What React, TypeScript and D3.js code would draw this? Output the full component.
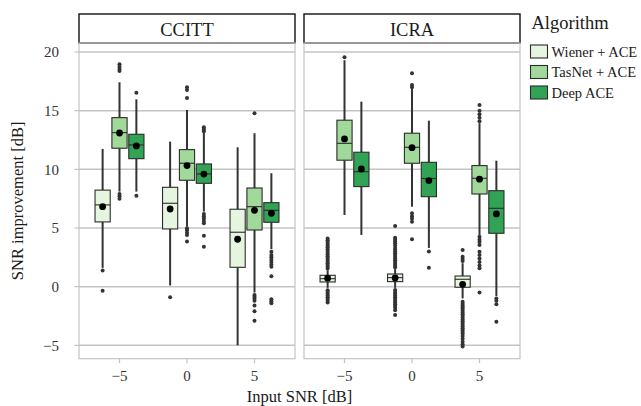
import React from "react";
import * as d3 from "d3";

// facets, x positions and fill groups
const panels = ["CCITT", "ICRA"];
const inputSnr = [-5, 0, 5];
const algorithms = ["Wiener + ACE", "TasNet + ACE", "Deep ACE"];
const algoColors = ["#e5f5e0", "#a1d99b", "#31a354"];
const yTicks = [-5, 0, 5, 10, 15, 20];
const xTicks = [-5, 0, 5];

// box stats per input SNR: [lowWhisker, q1, median, q3, highWhisker, mean]
const ccittWiener = [
  [1.6, 5.52, 6.97, 8.23, 11.74, 6.82],
  [0.1, 4.92, 7.11, 8.47, 12.36, 6.62],
  [-5.0, 1.65, 4.64, 6.6, 11.88, 4.04],
];
const ccittTasnet = [
  [8.1, 11.8, 13.13, 14.41, 17.42, 13.1],
  [5.12, 9.07, 10.52, 11.68, 15.06, 10.32],
  [-0.5, 4.83, 6.82, 8.41, 13.08, 6.51],
];
const ccittDeep = [
  [8.1, 10.91, 12.08, 12.99, 15.97, 12.0],
  [6.4, 8.81, 9.61, 10.46, 13.2, 9.6],
  [3.2, 5.49, 6.51, 7.16, 9.67, 6.26],
];
const icraWiener = [
  [-0.1, 0.4, 0.68, 0.97, 1.4, 0.72],
  [-0.1, 0.43, 0.77, 1.08, 1.5, 0.74],
  [-1.0, -0.05, 0.63, 0.91, 2.0, 0.2],
];
const icraTasnet = [
  [6.11, 10.78, 12.22, 14.19, 19.3, 12.59],
  [6.82, 10.52, 11.88, 13.08, 16.91, 11.85],
  [4.41, 7.9, 9.24, 10.32, 13.93, 9.16],
];
const icraDeep = [
  [4.41, 8.53, 9.8, 11.46, 15.77, 10.03],
  [3.3, 7.67, 9.22, 10.6, 14.15, 9.04],
  [-0.8, 4.55, 6.68, 8.18, 10.74, 6.2],
];

// outliers per input SNR
const ccittWienerOut = [[1.37, -0.34], [-0.9], []];
const ccittTasnetOut = [
  [18.96, 18.75, 18.55, 18.39, 7.9, 7.7, 7.5],
  [17.0, 16.77, 16.09, 4.98, 4.8, 4.6, 4.4, 3.84],
  [14.78, -0.7, -0.85, -1.0, -1.2, -1.6, -2.1, -2.9],
];
const ccittDeepOut = [
  [16.54, 7.76],
  [13.59, 13.4, 13.25, 6.2, 6.0, 5.8, 5.6, 5.4, 4.35, 3.4],
  [2.98, 2.7, 2.5, 2.3, 2.1, 1.9, 1.7, 0.88, -1.07, -1.25, -1.42],
];
const icraWienerOut = [
  [1.55, 1.7, 1.85, 2.0, 2.15, 2.3, 2.45, 2.6, 2.75, 2.9, 3.05, 3.2, 3.35, 3.5, 3.65, 3.8, 3.95, 4.1, -0.3, -0.45, -0.6, -0.75, -0.9, -1.05, -1.2, -1.35],
  [5.17, 4.18, 4.0, 3.85, 3.7, 3.5, 3.3, 3.15, 3.0, 2.85, 2.7, 2.55, 2.4, 2.25, 2.1, 1.95, 1.8, 1.65, -0.28, -0.45, -0.6, -0.75, -0.9, -1.05, -1.2, -1.35, -1.5, -1.65, -1.8, -2.0, -2.41],
  [3.13, 2.56, 2.35, 2.19, -1.28, -1.45, -1.6, -1.75, -1.9, -2.05, -2.2, -2.35, -2.5, -2.65, -2.8, -2.95, -3.1, -3.25, -3.4, -3.55, -3.7, -3.85, -4.0, -4.2, -4.45, -4.7, -4.9, -5.1],
];
const icraTasnetOut = [
  [19.56],
  [18.19, 17.2, 17.0, 6.26, 6.0, 5.8, 5.54, 4.04],
  [15.49, 15.0, 14.7, 14.4, 14.1, 4.26, 4.0, 3.8, 3.55, 2.98, 2.7, 2.4, 2.1, 1.8, 1.57, -0.5],
];
const icraDeepOut = [[], [3.0, 1.62], [-1.0, -1.2, -1.5, -2.98]];

const statsByPanel = [
  [ccittWiener, ccittTasnet, ccittDeep],
  [icraWiener, icraTasnet, icraDeep],
];
const outByPanel = [
  [ccittWienerOut, ccittTasnetOut, ccittDeepOut],
  [icraWienerOut, icraTasnetOut, icraDeepOut],
];

const W = 641;
const H = 406;
const panelX = [79, 304];
const panelW = 216;
const panelTop = 43;
const panelBottom = 358.7;
const stripTop = 14;
const gridCol = "#c4c4c4";
const font = "'Liberation Serif', 'Times New Roman', serif";

const App = () => {
  const y = d3.scaleLinear().domain([-6.14, 20.77]).range([panelBottom, panelTop]);
  const dodge = d3.scaleBand().domain(algorithms).range([-1.875, 1.875]);
  const boxW = 1.125;

  return (
    <svg
      width={W}
      height={H}
      style={{ position: "absolute", left: 0, top: 0, background: "white" }}
      fontFamily={font}
    >
      {panels.map((p, pi) => {
        const x = d3.scaleLinear().domain([-8, 8]).range([panelX[pi], panelX[pi] + panelW]);
        const pxW = x(boxW) - x(0);
        return (
          <g key={p}>
            {/* strip */}
            <rect x={panelX[pi]} y={stripTop} width={panelW} height={panelTop - stripTop} fill="white" stroke="#111" strokeWidth={1.4} />
            <text x={panelX[pi] + panelW / 2} y={36} textAnchor="middle" fontSize={18.5} fill="#1a1a1a">
              {p}
            </text>
            {/* grid */}
            {yTicks.map((t) => (
              <line key={t} x1={panelX[pi]} x2={panelX[pi] + panelW} y1={y(t)} y2={y(t)} stroke={gridCol} strokeWidth={1.5} />
            ))}
            <rect x={panelX[pi]} y={panelTop} width={panelW} height={panelBottom - panelTop} fill="none" stroke={gridCol} strokeWidth={1.2} />
            {/* x ticks */}
            {xTicks.map((t) => (
              <g key={t}>
                <line x1={x(t)} x2={x(t)} y1={panelBottom} y2={panelBottom + 4.5} stroke={gridCol} strokeWidth={1.2} />
                <text x={x(t)} y={380.5} textAnchor="middle" fontSize={15} fill="#333">
                  {t < 0 ? "\u2212" + Math.abs(t) : t}
                </text>
              </g>
            ))}
            {/* boxes */}
            {algorithms.map((a, ai) =>
              inputSnr.map((s, si) => {
                const st = statsByPanel[pi][ai][si];
                const cx = x(s + (dodge(a) as number) + dodge.bandwidth() / 2);
                const outs = outByPanel[pi][ai][si];
                return (
                  <g key={a + s}>
                    <line x1={cx} x2={cx} y1={y(st[4])} y2={y(st[3])} stroke="#333" strokeWidth={2} />
                    <line x1={cx} x2={cx} y1={y(st[1])} y2={y(st[0])} stroke="#333" strokeWidth={2} />
                    {outs.map((o, oi) => (
                      <circle key={oi} cx={cx} cy={y(o)} r={2} fill="#333" />
                    ))}
                    <rect
                      x={cx - pxW / 2}
                      y={y(st[3])}
                      width={pxW}
                      height={y(st[1]) - y(st[3])}
                      fill={algoColors[ai]}
                      stroke="#2b2b2b"
                      strokeWidth={1.1}
                    />
                    <line x1={cx - pxW / 2} x2={cx + pxW / 2} y1={y(st[2])} y2={y(st[2])} stroke="#2b2b2b" strokeWidth={1.1} />
                    <circle cx={cx} cy={y(st[5])} r={3.4} fill="black" />
                  </g>
                );
              })
            )}
          </g>
        );
      })}
      {/* y axis */}
      {yTicks.map((t) => (
        <g key={t}>
          <line x1={74.5} x2={79} y1={y(t)} y2={y(t)} stroke={gridCol} strokeWidth={1.2} />
          <text x={59} y={y(t)} dy="0.35em" textAnchor="end" fontSize={15} fill="#333">
            {t < 0 ? "\u2212" + Math.abs(t) : t}
          </text>
        </g>
      ))}
      <text transform={`translate(23,${(panelTop + panelBottom) / 2}) rotate(-90)`} textAnchor="middle" fontSize={16.5} fill="#1a1a1a">
        SNR improvement [dB]
      </text>
      <text x={(panelX[0] + panelX[1] + panelW) / 2} y={401.5} textAnchor="middle" fontSize={16.5} fill="#1a1a1a">
        Input SNR [dB]
      </text>
      {/* legend */}
      <text x={531.5} y={29} fontSize={18.5} fill="#1a1a1a">
        Algorithm
      </text>
      {algorithms.map((a, i) => (
        <g key={a} transform={`translate(530,${45 + i * 20.5})`}>
          <rect x={0.5} y={0} width={17} height={13} fill={algoColors[i]} stroke="#2b2b2b" strokeWidth={1.1} />
          <text x={21.5} y={11.5} fontSize={14.5} fill="#1a1a1a">
            {a}
          </text>
        </g>
      ))}
    </svg>
  );
};

export default App;
